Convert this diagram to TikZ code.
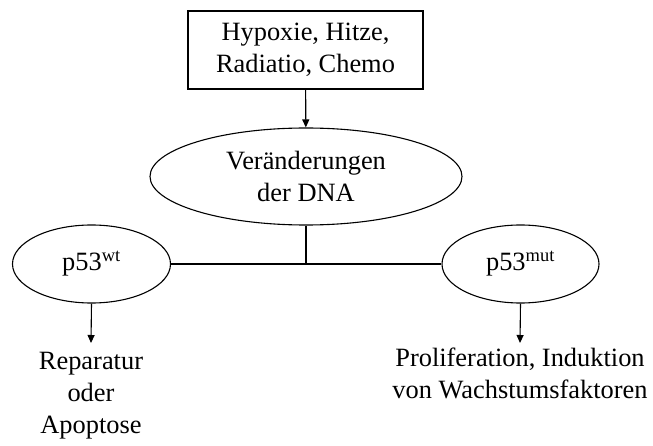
\documentclass[tikz,border=0pt]{standalone}
\usepackage{fontspec}
\setmainfont{Liberation Serif}
\usepackage{tikz}
\usetikzlibrary{shapes.geometric,arrows.meta}

\begin{document}
\begin{tikzpicture}[x=1bp, y=-1bp, line width=1.1bp,
    every node/.style={font=\fontsize{26.5}{32}\selectfont, align=center},
    causebox/.style={draw, rectangle, minimum width=235bp, minimum height=78bp, inner sep=0pt},
    oval/.style={draw, ellipse, inner sep=0pt},
    result/.style={anchor=north, inner sep=0pt},
    pfeil/.style={-{Triangle[length=8bp,width=7bp]}}]
    \useasboundingbox (0,0) rectangle (653,446);

    % Ausloeser
    \node[causebox] (cause) at (305.5,50) {Hypoxie, Hitze,\\Radiatio, Chemo};

    % DNA-Schaden
    \node[oval, minimum width=312bp, minimum height=97bp] (dna) at (306,176.5) {Ver\"anderungen\\der DNA};

    % p53 Status
    \node[oval, minimum width=158bp, minimum height=78bp] (wt) at (91.5,264) {p53\textsuperscript{wt}};
    \node[oval, minimum width=157bp, minimum height=78bp] (mut) at (520.5,264) {p53\textsuperscript{mut}};

    % Folgen
    \node[result] (rep) at (91,352) {Reparatur\\oder\\Apoptose};
    \node[result] (prolif) at (520,347) {Proliferation, Induktion\\von Wachstumsfaktoren};

    % Verbindungen
    \draw[pfeil] (cause) -- (dna);
    \draw (wt) -- (mut);
    \draw (dna.south) -- (dna.south |- wt.east);
    \draw[pfeil] (wt.south) -- ([yshift=9bp]rep.north);
    \draw[pfeil] (mut.south) -- ([yshift=4bp]prolif.north);
\end{tikzpicture}
\end{document}
